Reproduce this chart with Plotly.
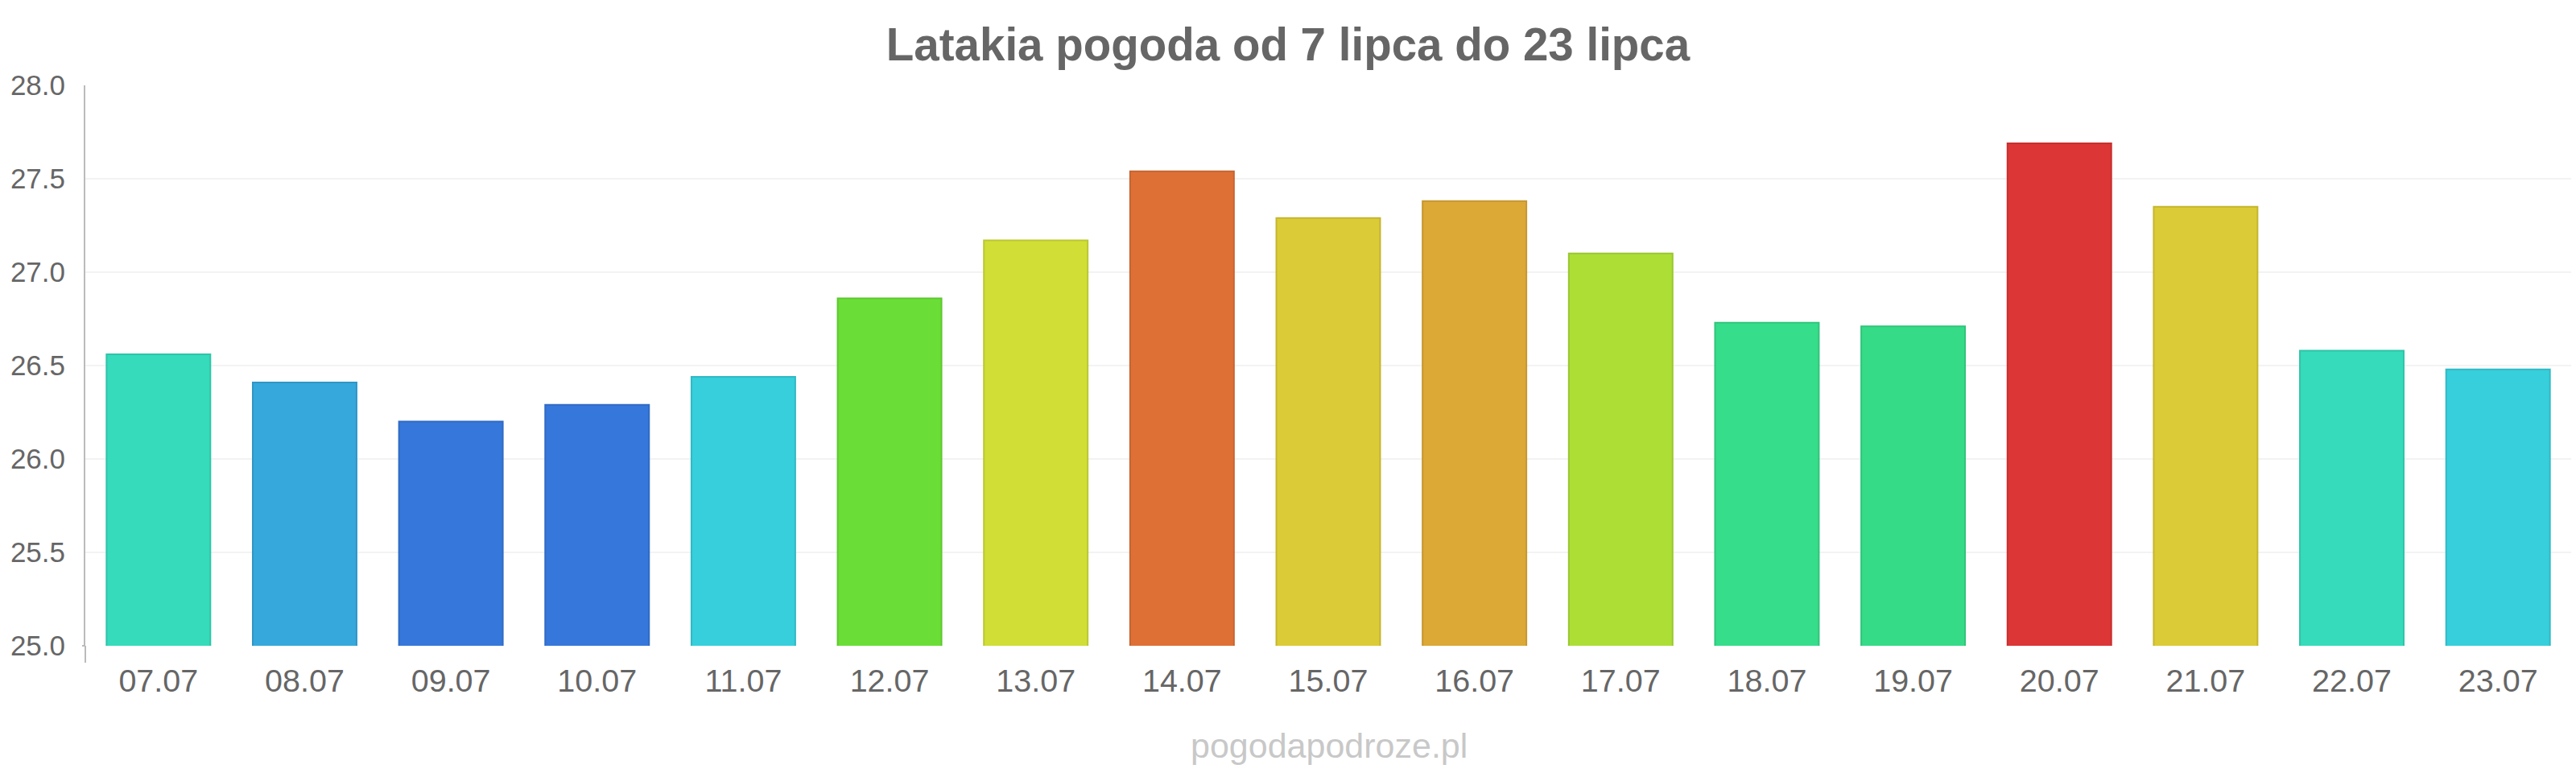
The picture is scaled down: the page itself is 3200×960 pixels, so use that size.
import plotly.graph_objects as go

dates = ["07.07", "08.07", "09.07", "10.07", "11.07", "12.07", "13.07", "14.07", "15.07",
         "16.07", "17.07", "18.07", "19.07", "20.07", "21.07", "22.07", "23.07"]
temps = [26.56, 26.41, 26.20, 26.29, 26.44, 26.86, 27.17, 27.54, 27.29,
         27.38, 27.10, 26.73, 26.71, 27.69, 27.35, 26.58, 26.48]
colors = ["#35dbbb", "#36a8db", "#3677db", "#3677db", "#36cfdb", "#6ade36", "#d0de36", "#de7036", "#dbcb36",
          "#dca836", "#acde36", "#36dd8a", "#36db88", "#dc3636", "#dbcb36", "#35dbbb", "#36cfdb"]
title_text = "Latakia pogoda od 7 lipca do 23 lipca"
watermark = "pogodapodroze.pl"
y_ticks = [25.0, 25.5, 26.0, 26.5, 27.0, 27.5, 28.0]


def darker(h, f=0.9):
    h = h.lstrip("#")
    r, g, b = (int(h[i:i + 2], 16) for i in (0, 2, 4))
    return "#%02x%02x%02x" % (int(r * f), int(g * f), int(b * f))


FONT = "Liberation Sans, Arial, sans-serif"
W, H = 3200, 960
ML, MR, MT, MB = 106, 6, 106, 158

fig = go.Figure(go.Bar(
    x=dates, y=temps,
    marker=dict(color=colors, line=dict(color=[darker(c) for c in colors], width=2)),
    width=0.71,
    hoverinfo="x+y",
))

fig.update_layout(
    width=W, height=H,
    margin=dict(l=ML, r=MR, t=MT, b=MB, pad=0),
    paper_bgcolor="white", plot_bgcolor="white",
    showlegend=False,
    font=dict(family=FONT, color="#666666"),
    title=dict(text="<b>" + title_text + "</b>", x=0.5, xanchor="center", y=1 - 55 / H, yanchor="middle",
               font=dict(size=56.5, color="#666666", family=FONT)),
    xaxis=dict(showgrid=False, showline=False, zeroline=False, ticks="",
               tickfont=dict(size=39.5, color="#666666"), ticklabelstandoff=16),
    yaxis=dict(range=[25, 28], tickvals=y_ticks, ticktext=["%.1f" % v for v in y_ticks],
               showgrid=True, gridcolor="#f3f3f3", gridwidth=2, zeroline=False,
               showline=True, linecolor="#bbbbbb", linewidth=2, ticks="",
               tickfont=dict(size=35, color="#666666"), ticklabelstandoff=16),
    annotations=[dict(text=watermark, x=0.5 + (1651 - (ML + (W - ML - MR) / 2)) / (W - ML - MR),
                      xref="paper", yref="paper", y=-(926 - (H - MB)) / (H - MT - MB),
                      xanchor="center", yanchor="middle", showarrow=False,
                      font=dict(size=43, color="#c8c8c8", family=FONT))],
    shapes=[
        dict(type="line", xref="paper", yref="paper", x0=0, x1=0, y0=0, y1=-21 / (H - MT - MB),
             line=dict(color="#bbbbbb", width=2)),
        dict(type="line", xref="paper", yref="paper", x0=-4 / (W - ML - MR), x1=0, y0=0, y1=0,
             line=dict(color="#bbbbbb", width=2)),
    ],
)

fig.write_html("out.html")
